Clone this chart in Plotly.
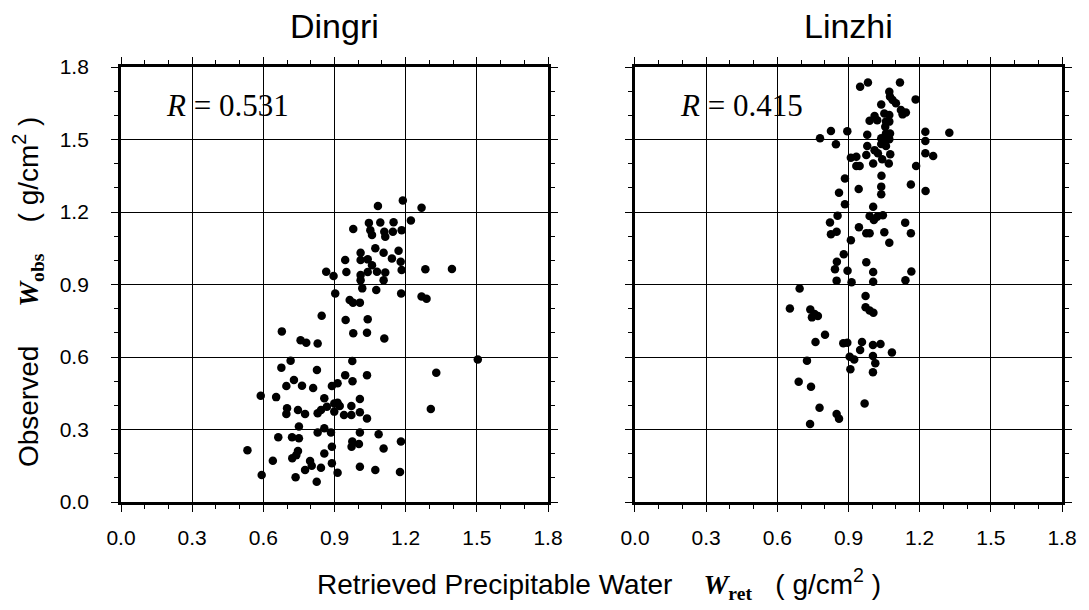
import plotly.graph_objects as go

# Dingri: retrieved (x) vs observed (y), g/cm^2
dingri_x = [1.083, 1.188, 1.267, 1.222, 0.979, 1.045, 1.093, 1.149, 1.051, 1.058, 1.110, 1.114, 1.146, 1.183,
            1.010, 1.072, 1.107, 1.170, 1.010, 1.040, 0.945, 1.142, 1.179, 1.058, 1.183, 1.283, 1.395, 0.865,
            0.896, 0.950, 1.010, 1.040, 1.079, 1.114, 1.010, 1.107, 1.017, 1.076, 1.181, 0.903, 1.267, 1.288,
            0.964, 0.978, 1.007, 0.846, 0.947, 1.040, 0.678, 0.757, 0.781, 0.829, 0.979, 1.037, 1.110, 1.504,
            0.975, 0.715, 0.676, 0.826, 0.945, 1.037, 1.329, 0.729, 0.763, 0.697, 0.810, 0.889, 0.913, 0.976,
            0.589, 0.654, 0.857, 1.007, 0.899, 0.913, 0.922, 0.700, 0.746, 0.697, 0.776, 0.829, 0.843, 0.868,
            0.899, 0.940, 0.971, 0.971, 1.007, 1.037, 1.306, 0.750, 0.857, 0.829, 0.885, 1.007, 0.663, 0.721,
            0.750, 1.086, 0.975, 1.003, 0.972, 1.180, 0.533, 0.889, 1.107, 0.746, 0.739, 0.857, 0.722, 0.640,
            0.797, 0.804, 0.776, 0.843, 0.889, 1.007, 1.072, 1.176, 0.913, 0.593, 0.736, 0.825]
dingri_y = [1.225, 1.248, 1.218, 1.165, 1.130, 1.155, 1.157, 1.158, 1.125, 1.105, 1.118, 1.098, 1.118, 1.125,
            1.031, 1.050, 1.031, 1.040, 1.001, 1.004, 1.001, 1.008, 0.994, 0.980, 0.960, 0.963, 0.964, 0.953,
            0.935, 0.952, 0.939, 0.952, 0.953, 0.950, 0.918, 0.918, 0.884, 0.877, 0.863, 0.863, 0.850, 0.841,
            0.836, 0.825, 0.825, 0.771, 0.753, 0.756, 0.706, 0.669, 0.659, 0.656, 0.698, 0.700, 0.677, 0.590,
            0.583, 0.585, 0.556, 0.546, 0.525, 0.525, 0.535, 0.505, 0.481, 0.480, 0.472, 0.480, 0.491, 0.500,
            0.440, 0.434, 0.429, 0.426, 0.408, 0.411, 0.397, 0.388, 0.381, 0.364, 0.364, 0.367, 0.381, 0.394,
            0.374, 0.360, 0.360, 0.397, 0.371, 0.346, 0.385, 0.312, 0.305, 0.288, 0.288, 0.288, 0.268, 0.268,
            0.264, 0.280, 0.250, 0.240, 0.229, 0.250, 0.214, 0.229, 0.221, 0.211, 0.194, 0.201, 0.181, 0.171,
            0.170, 0.150, 0.132, 0.142, 0.160, 0.146, 0.132, 0.124, 0.121, 0.112, 0.102, 0.084]

# Linzhi
linzhi_x = [0.949, 0.982, 1.117, 1.072, 1.075, 1.086, 1.183, 1.100, 1.038, 1.121, 1.142, 1.128, 1.072, 1.051,
            1.010, 0.989, 1.021, 1.058, 1.072, 1.055, 0.826, 0.895, 0.979, 1.224, 1.325, 0.780, 1.058, 1.075,
            1.038, 1.051, 1.072, 1.224, 0.847, 1.038, 1.058, 0.979, 1.010, 1.224, 1.257, 0.975, 1.024, 1.076,
            1.042, 0.910, 0.933, 0.933, 0.947, 1.004, 1.070, 1.185, 1.039, 0.885, 1.163, 1.038, 0.943, 1.225,
            1.038, 0.860, 0.885, 1.004, 0.854, 0.989, 1.007, 1.021, 1.045, 0.822, 1.139, 0.944, 0.850, 0.826,
            0.975, 0.989, 1.051, 1.163, 1.072, 0.910, 0.880, 0.851, 0.975, 0.843, 0.896, 1.004, 1.165, 0.850,
            0.913, 1.004, 1.140, 0.694, 0.972, 0.653, 0.739, 0.757, 0.771, 0.972, 0.989, 1.005, 0.746, 0.801,
            0.761, 0.878, 0.895, 0.957, 0.949, 1.003, 1.035, 1.083, 0.905, 0.924, 1.003, 1.013, 0.725, 0.908,
            1.003, 0.690, 0.742, 0.968, 0.778, 0.850, 0.860, 0.738]
linzhi_y = [1.718, 1.736, 1.736, 1.698, 1.677, 1.663, 1.666, 1.650, 1.645, 1.622, 1.612, 1.604, 1.601, 1.608,
            1.597, 1.578, 1.580, 1.574, 1.574, 1.553, 1.535, 1.534, 1.520, 1.532, 1.528, 1.505, 1.525, 1.525,
            1.505, 1.498, 1.501, 1.494, 1.480, 1.481, 1.473, 1.473, 1.456, 1.443, 1.432, 1.436, 1.443, 1.439,
            1.418, 1.425, 1.429, 1.390, 1.390, 1.401, 1.401, 1.390, 1.350, 1.339, 1.314, 1.305, 1.295, 1.287,
            1.273, 1.280, 1.232, 1.222, 1.185, 1.183, 1.167, 1.180, 1.187, 1.157, 1.156, 1.137, 1.118, 1.108,
            1.112, 1.112, 1.116, 1.112, 1.073, 1.083, 1.025, 0.994, 0.992, 0.963, 0.957, 0.952, 0.954, 0.916,
            0.909, 0.911, 0.918, 0.883, 0.852, 0.801, 0.797, 0.778, 0.770, 0.806, 0.792, 0.783, 0.764, 0.692,
            0.662, 0.657, 0.659, 0.662, 0.629, 0.650, 0.654, 0.619, 0.601, 0.590, 0.604, 0.574, 0.585, 0.549,
            0.537, 0.498, 0.477, 0.408, 0.390, 0.364, 0.345, 0.323]

panel_titles = ["Dingri", "Linzhi"]
r_labels = ["0.531", "0.415"]
tick_vals = [0.0, 0.3, 0.6, 0.9, 1.2, 1.5, 1.8]
tick_text = ["0.0", "0.3", "0.6", "0.9", "1.2", "1.5", "1.8"]

SANS = "Arial, Liberation Sans, sans-serif"
SERIF = "Times New Roman, Liberation Serif, serif"

fig = go.Figure()
marker = dict(color="black", size=8.5, line=dict(width=0))
fig.add_trace(go.Scatter(x=dingri_x, y=dingri_y, mode="markers", marker=marker,
                         xaxis="x", yaxis="y", showlegend=False))
fig.add_trace(go.Scatter(x=linzhi_x, y=linzhi_y, mode="markers", marker=marker,
                         xaxis="x2", yaxis="y2", showlegend=False))

def axis_common(show_labels=True, standoff=12):
    return dict(
        range=[0, 1.8], tickvals=tick_vals, ticktext=tick_text,
        showticklabels=show_labels, ticklabelstandoff=standoff,
        ticks="outside", ticklen=7, tickwidth=1.3, tickcolor="black",
        minor=dict(ticks="outside", dtick=0.1, tick0=0, ticklen=4, tickwidth=1, tickcolor="black",
                   showgrid=False),
        showgrid=True, gridcolor="black", gridwidth=1.4,
        zeroline=False,
        showline=True, linecolor="black", linewidth=2.8, mirror="allticks",
        tickfont=dict(family=SANS, size=21, color="black"),
        fixedrange=True,
    )

W = 1089
H = 610
ml, mr, mt, mb = 121, 16, 67, 108
pw = W - ml - mr
d1 = [0, 432 / pw]
d2 = [1 - 432 / pw, 1]

fig.update_layout(
    width=W, height=H,
    margin=dict(l=ml, r=mr, t=mt, b=mb),
    paper_bgcolor="white", plot_bgcolor="white",
    xaxis=dict(domain=d1, anchor="y", **axis_common(standoff=8)),
    yaxis=dict(domain=[0, 1], anchor="x", **axis_common(standoff=18)),
    xaxis2=dict(domain=d2, anchor="y2", **axis_common(standoff=8)),
    yaxis2=dict(domain=[0, 1], anchor="x2", **axis_common(show_labels=False)),
)

ph = H - mt - mb
anns = []
for i, (title, r) in enumerate(zip(panel_titles, r_labels)):
    dom = d1 if i == 0 else d2
    anns.append(dict(text=title, xref="paper", yref="paper", x=(dom[0] + dom[1]) / 2,
                     y=1 + (mt - 26) / ph, xanchor="center", yanchor="middle", showarrow=False,
                     font=dict(family=SANS, size=34, color="black")))
    xr = "x" if i == 0 else "x2"
    yr = "y" if i == 0 else "y2"
    anns.append(dict(text="<i>R</i> = " + r, xref=xr, yref=yr, x=0.18, y=1.64,
                     xanchor="left", yanchor="middle", showarrow=False,
                     font=dict(family=SERIF, size=31, color="black")))

sym = "<span style='font-family:Liberation Serif, serif'><b><i>W</i></b><sub><b>{}</b></sub></span>"
anns.append(dict(
    text="Retrieved Precipitable Water    " + sym.format("ret") + "   ( g/cm<sup>2</sup> )",
    xref="paper", yref="paper", x=(605 - ml) / pw, y=-(584 - (H - mb)) / ph,
    xanchor="center", yanchor="middle", showarrow=False,
    font=dict(family=SANS, size=28, color="black")))
anns.append(dict(
    text="Observed     " + sym.format("obs") + "    ( g/cm<sup>2</sup> )",
    xref="paper", yref="paper", x=-(ml - 27) / pw, y=((H - mb) - 292) / ph,
    xanchor="center", yanchor="middle", textangle=-90, showarrow=False,
    font=dict(family=SANS, size=28, color="black")))

fig.update_layout(annotations=anns)
fig.write_html("out.html")
